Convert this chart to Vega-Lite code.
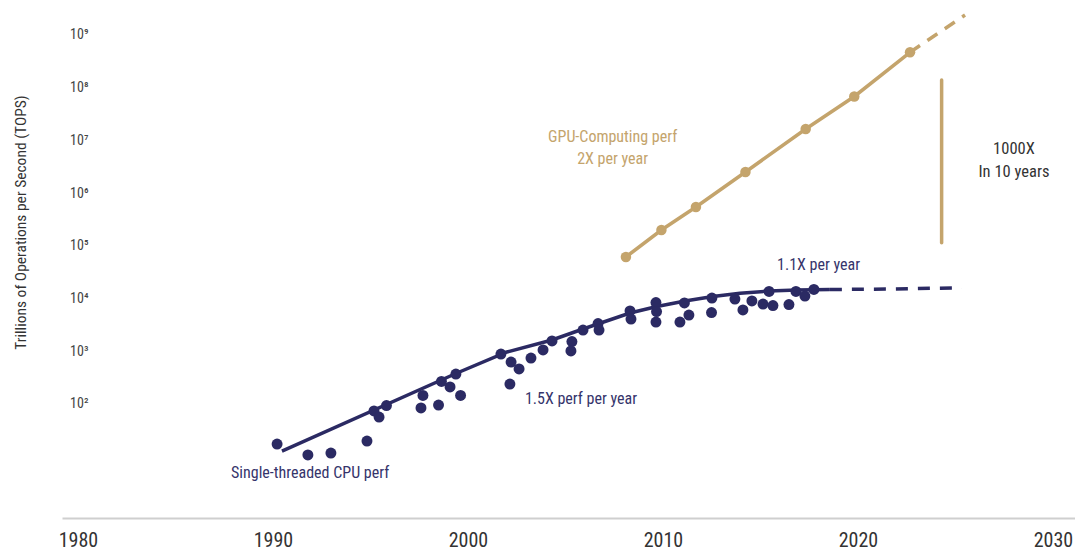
{
  "$schema": "https://vega.github.io/schema/vega-lite/v6.json",
  "width": 1013,
  "height": 518,
  "padding": {"left": 62, "top": 0, "right": 0, "bottom": 36},
  "autosize": {"type": "none"},
  "background": "white",
  "config": {"view": {"stroke": null}, "font": "'Liberation Sans Narrow', 'Roboto Condensed', 'DejaVu Sans Condensed', 'Open Sans Condensed', Roboto, sans-serif"},
  "datasets": {
    "cpu": [
      {"year": 1990.21, "tops": 17.4}, {"year": 1991.79, "tops": 10.8}, {"year": 1992.97, "tops": 11.7},
      {"year": 1994.82, "tops": 19.8}, {"year": 1995.18, "tops": 73.6}, {"year": 1995.44, "tops": 56.6},
      {"year": 1995.82, "tops": 93.5}, {"year": 1997.59, "tops": 83.9}, {"year": 1997.69, "tops": 145},
      {"year": 1998.49, "tops": 95.5}, {"year": 1998.64, "tops": 267}, {"year": 1999.08, "tops": 210},
      {"year": 1999.38, "tops": 370}, {"year": 1999.62, "tops": 145}, {"year": 2001.69, "tops": 887},
      {"year": 2002.15, "tops": 239}, {"year": 2002.21, "tops": 625}, {"year": 2002.62, "tops": 461},
      {"year": 2003.23, "tops": 745}, {"year": 2003.85, "tops": 1057}, {"year": 2004.31, "tops": 1566},
      {"year": 2005.33, "tops": 1531}, {"year": 2005.28, "tops": 1012}, {"year": 2005.9, "tops": 2530},
      {"year": 2006.67, "tops": 3363}, {"year": 2006.72, "tops": 2530}, {"year": 2008.31, "tops": 5807},
      {"year": 2008.36, "tops": 4093}, {"year": 2009.64, "tops": 8414}, {"year": 2009.67, "tops": 5675},
      {"year": 2009.64, "tops": 3589}, {"year": 2010.87, "tops": 3589}, {"year": 2011.1, "tops": 8241},
      {"year": 2011.33, "tops": 4873}, {"year": 2012.51, "tops": 10240}, {"year": 2012.49, "tops": 5433},
      {"year": 2013.69, "tops": 9800}, {"year": 2014.1, "tops": 6067}, {"year": 2014.56, "tops": 8990},
      {"year": 2015.13, "tops": 7880}, {"year": 2015.44, "tops": 13610}, {"year": 2015.64, "tops": 7380},
      {"year": 2016.46, "tops": 7710}, {"year": 2016.82, "tops": 13610}, {"year": 2017.28, "tops": 11170},
      {"year": 2017.74, "tops": 14860}
    ],
    "cpuTrend": [
      {"year": 1990.46, "tops": 12.8}, {"year": 1999.44, "tops": 387}, {"year": 2002.0, "tops": 968},
      {"year": 2004.31, "tops": 1636}, {"year": 2005.9, "tops": 2643}, {"year": 2008.31, "tops": 5321},
      {"year": 2009.69, "tops": 7066}, {"year": 2011.13, "tops": 8990}, {"year": 2012.56, "tops": 10940},
      {"year": 2013.95, "tops": 12590}, {"year": 2015.44, "tops": 13900}, {"year": 2016.87, "tops": 14520},
      {"year": 2018.56, "tops": 14860}
    ],
    "cpuProj": [
      {"year": 2018.56, "tops": 14860}, {"year": 2021.9, "tops": 15170}, {"year": 2025.33, "tops": 16070}
    ],
    "gpu": [
      {"year": 2008.1, "tops": 61400}, {"year": 2009.92, "tops": 199500}, {"year": 2011.69, "tops": 545700},
      {"year": 2014.23, "tops": 2518000}, {"year": 2017.32, "tops": 16480000}, {"year": 2019.81, "tops": 68100000},
      {"year": 2022.67, "tops": 470000000}
    ],
    "gpuProj": [
      {"year": 2022.67, "tops": 470000000}, {"year": 2025.49, "tops": 2390000000}
    ]
  },
  "encoding": {
    "x": {
      "field": "year", "type": "quantitative",
      "scale": {"domain": [1979.18, 2031.13], "nice": false, "zero": false},
      "axis": {
        "values": [1980, 1990, 2000, 2010, 2020, 2030], "format": "d", "title": null,
        "grid": false, "ticks": false, "domainColor": "#cfcfcf", "domainWidth": 2,
        "labelFontSize": 20, "labelColor": "#333333", "labelPadding": 12,
        "labelFlush": false, "labelOverlap": false
      }
    },
    "y": {
      "field": "tops", "type": "quantitative",
      "scale": {"type": "log", "domain": [0.687, 4610000000], "nice": false},
      "axis": {
        "values": [100, 1000, 10000, 100000, 1000000, 10000000, 100000000, 1000000000],
        "labelExpr": "'10' + ['⁰','¹','²','³','⁴','⁵','⁶','⁷','⁸','⁹'][round(log(datum.value)/LN10)]",
        "offset": -30, "domain": false, "ticks": false, "grid": false,
        "labelFontSize": 14, "labelColor": "#444444", "labelPadding": 4,
        "title": "Trillions of Operations per Second (TOPS)",
        "titleFontSize": 15.5, "titleFontWeight": "normal", "titleColor": "#333333",
        "titleX": -72, "titleY": 222, "titleAlign": "center", "titleBaseline": "middle", "titleAngle": -90
      }
    }
  },
  "layer": [
    {"data": {"name": "cpuTrend"}, "mark": {"type": "line", "color": "#2b2a63", "strokeWidth": 3.5}},
    {"data": {"name": "cpuProj"}, "mark": {"type": "line", "color": "#2b2a63", "strokeWidth": 3.5, "strokeDash": [12, 10]}},
    {"data": {"name": "cpu"}, "mark": {"type": "circle", "color": "#2b2a63", "size": 120, "opacity": 1}},
    {"data": {"name": "gpu"}, "mark": {"type": "line", "color": "#c4a46c", "strokeWidth": 3.5}},
    {"data": {"name": "gpuProj"}, "mark": {"type": "line", "color": "#c4a46c", "strokeWidth": 3.5, "strokeDash": [12, 9]}},
    {"data": {"name": "gpu"}, "mark": {"type": "circle", "color": "#c4a46c", "size": 110, "opacity": 1}},
    {
      "data": {"values": [{"year": 2024.29, "tops": 140000000, "tops2": 114800}]},
      "mark": {"type": "rule", "color": "#c4a46c", "strokeWidth": 3.5, "strokeCap": "round"},
      "encoding": {"y2": {"field": "tops2"}}
    },
    {
      "data": {"values": [
        {"year": 1987.85, "tops": 4.9, "label": "Single-threaded CPU perf"},
        {"year": 2002.92, "tops": 124, "label": "1.5X perf per year"},
        {"year": 2015.85, "tops": 43300, "label": "1.1X per year"}
      ]},
      "mark": {"type": "text", "align": "left", "baseline": "middle", "fontSize": 16, "color": "#35346b"},
      "encoding": {"text": {"field": "label"}}
    },
    {
      "data": {"values": [
        {"year": 2007.42, "tops": 11610000, "label": "GPU-Computing perf"},
        {"year": 2007.42, "tops": 4440000, "label": "2X per year"}
      ]},
      "mark": {"type": "text", "align": "center", "baseline": "middle", "fontSize": 16, "color": "#c4a46c"},
      "encoding": {"text": {"field": "label"}}
    },
    {
      "data": {"values": [
        {"year": 2028.0, "tops": 6870000, "label": "1000X"},
        {"year": 2028.0, "tops": 2520000, "label": "In 10 years"}
      ]},
      "mark": {"type": "text", "align": "center", "baseline": "middle", "fontSize": 16.5, "color": "#333333"},
      "encoding": {"text": {"field": "label"}}
    }
  ]
}
